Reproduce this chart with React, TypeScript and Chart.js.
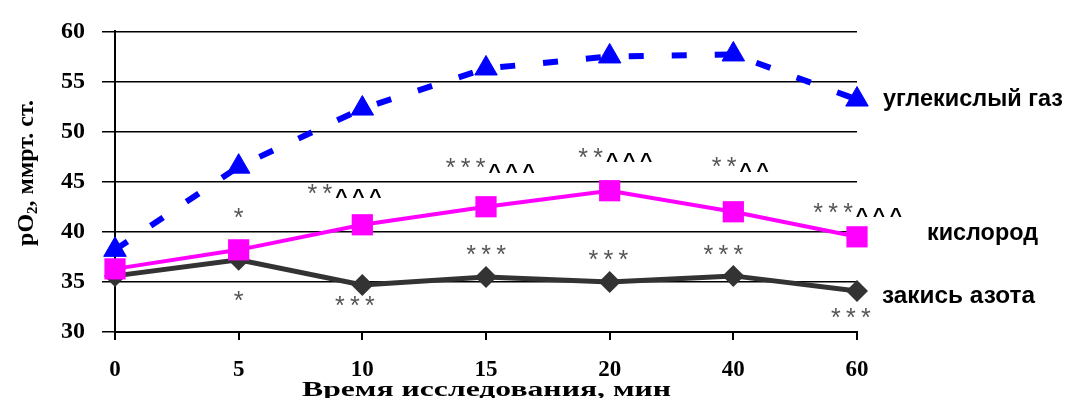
import React, { useEffect, useRef } from 'react';
import { Chart, registerables } from 'chart.js';

Chart.register(...registerables);

// ---- data ----
const categories = ['0', '5', '10', '15', '20', '40', '60'];
const co2Values = [38.2, 46.5, 52.3, 56.3, 57.5, 57.7, 53.2];
const oxygenValues = [36.3, 38.2, 40.7, 42.5, 44.1, 42.0, 39.5];
const nitrousValues = [35.6, 37.2, 34.7, 35.5, 35.0, 35.6, 34.1];
const seriesNames = ['углекислый газ', 'кислород', 'закись азота'];
const yMin = 30;
const yMax = 60;
const yStep = 5;
const yTitle = ['pO', '2', ', ммрт. ст.'];
const xTitle = 'Время исследования, мин';

// significance marks: position along category axis (index), y value, number of * and ^
const markAt = [1.0, 1.0, 1.85, 1.94, 3.03, 3.0, 4.04, 3.99, 5.05, 4.92, 6.0, 5.95];
const markValue = [41.9, 33.6, 44.3, 33.1, 46.85, 38.2, 47.9, 37.7, 46.95, 38.2, 42.4, 31.85];
const markStars = [1, 1, 2, 3, 3, 3, 2, 3, 2, 3, 3, 3];
const markCarets = [0, 0, 3, 0, 3, 0, 3, 0, 2, 0, 3, 0];

// ---- styles ----
const COLORS = ['#0000FF', '#FF00FF', '#333333'];
const LABEL_OFFSETS = [
  [26, 0],
  [70, -3],
  [25, 6],
];
const LABEL_WIDTHS = [180, 111, 153];

function fitText(
  ctx: CanvasRenderingContext2D,
  text: string,
  x: number,
  cy: number,
  font: string,
  width: number,
  refGlyph: string
) {
  ctx.save();
  ctx.font = font;
  ctx.textAlign = 'left';
  ctx.textBaseline = 'alphabetic';
  const m = ctx.measureText(refGlyph);
  const base = cy + (m.actualBoundingBoxAscent - m.actualBoundingBoxDescent) / 2;
  const w = ctx.measureText(text).width;
  const sx = width / w;
  ctx.translate(x, base);
  ctx.scale(sx, 1);
  ctx.fillText(text, 0, 0);
  ctx.restore();
}

const overlayPlugin = {
  id: 'overlayTexts',
  afterDraw(chart: any) {
    const ctx: CanvasRenderingContext2D = chart.ctx;
    const xs = chart.scales.x;
    const ys = chart.scales.y;
    const area = chart.chartArea;

    // significance marks
    const starSp = 15;
    const caretSp = 17;
    const gap = 14;
    for (let i = 0; i < markAt.length; i++) {
      const ns = markStars[i];
      const nc = markCarets[i];
      let width = 0;
      if (ns > 0) width += (ns - 1) * starSp;
      if (ns > 0 && nc > 0) width += gap;
      if (nc > 0) width += (nc - 1) * caretSp;
      const cx = xs.getPixelForValue(markAt[i]);
      const cy = ys.getPixelForValue(markValue[i]);
      let px = cx - width / 2;
      ctx.save();
      ctx.textAlign = 'center';
      ctx.textBaseline = 'alphabetic';
      ctx.font = '25px "Liberation Sans"';
      ctx.fillStyle = '#555555';
      const ms = ctx.measureText('*');
      const sBase = cy + (ms.actualBoundingBoxAscent - ms.actualBoundingBoxDescent) / 2;
      for (let k = 0; k < ns; k++) {
        ctx.fillText('*', px, sBase);
        if (k < ns - 1) px += starSp;
      }
      if (ns > 0 && nc > 0) px += gap;
      ctx.font = 'bold 21px "Liberation Sans"';
      ctx.fillStyle = '#000000';
      const mc = ctx.measureText('^');
      const cBase = cy + 5 + (mc.actualBoundingBoxAscent - mc.actualBoundingBoxDescent) / 2;
      for (let k = 0; k < nc; k++) {
        ctx.fillText('^', px, cBase);
        px += caretSp;
      }
      ctx.restore();
    }

    // series labels at the end of each line
    const lastIdx = categories.length - 1;
    const lastVals = [co2Values[lastIdx], oxygenValues[lastIdx], nitrousValues[lastIdx]];
    for (let i = 0; i < seriesNames.length; i++) {
      const x = xs.getPixelForValue(lastIdx) + LABEL_OFFSETS[i][0];
      const y = ys.getPixelForValue(lastVals[i]) + LABEL_OFFSETS[i][1];
      ctx.fillStyle = '#000000';
      fitText(ctx, seriesNames[i], x, y, 'bold 23px "Liberation Sans"', LABEL_WIDTHS[i], 'о');
    }

    // x axis title
    ctx.fillStyle = '#000000';
    fitText(
      ctx,
      xTitle,
      (area.left + area.right) / 2 - 184,
      389,
      'bold 22px "Liberation Serif"',
      369,
      'В'
    );

    // y axis title (rotated, with subscript)
    ctx.save();
    ctx.translate(26, 173);
    ctx.rotate(-Math.PI / 2);
    const bigFont = 'bold 24px "Liberation Serif"';
    const subFont = 'bold 15px "Liberation Serif"';
    ctx.font = bigFont;
    const w1 = ctx.measureText(yTitle[0]).width;
    const w3 = ctx.measureText(yTitle[2]).width;
    ctx.font = subFont;
    const w2 = ctx.measureText(yTitle[1]).width;
    const total = w1 + w2 + w3;
    const base = 7;
    ctx.textBaseline = 'alphabetic';
    ctx.textAlign = 'left';
    ctx.fillStyle = '#000000';
    let tx = -total / 2;
    ctx.font = bigFont;
    ctx.fillText(yTitle[0], tx, base);
    tx += w1;
    ctx.font = subFont;
    ctx.fillText(yTitle[1], tx, base + 4);
    tx += w2;
    ctx.font = bigFont;
    ctx.fillText(yTitle[2], tx, base);
    ctx.restore();
  },
};

export default function App() {
  const ref = useRef<HTMLCanvasElement | null>(null);

  useEffect(() => {
    if (!ref.current) return;
    const chart = new Chart(ref.current, {
      type: 'line',
      data: {
        labels: categories,
        datasets: [
          {
            label: seriesNames[1],
            data: oxygenValues,
            borderColor: COLORS[1],
            backgroundColor: COLORS[1],
            borderWidth: 4,
            pointStyle: 'rect',
            pointRadius: 15,
            pointBorderWidth: 0,
            pointBackgroundColor: COLORS[1],
            tension: 0,
            clip: false,
            order: 0,
          } as any,
          {
            label: seriesNames[2],
            data: nitrousValues,
            borderColor: COLORS[2],
            backgroundColor: COLORS[2],
            borderWidth: 5,
            pointStyle: 'rectRot',
            pointRadius: 11,
            pointBorderWidth: 0,
            pointBackgroundColor: COLORS[2],
            tension: 0,
            clip: false,
            order: 1,
          } as any,
          {
            label: seriesNames[0],
            data: co2Values,
            borderColor: COLORS[0],
            backgroundColor: COLORS[0],
            borderWidth: 6,
            borderDash: [15, 28],
            borderCapStyle: 'butt',
            pointStyle: 'triangle',
            pointRadius: 13,
            pointBorderWidth: 1,
            pointBorderColor: COLORS[0],
            pointBackgroundColor: COLORS[0],
            tension: 0,
            clip: false,
            order: 2,
          } as any,
        ],
      },
      options: {
        animation: false,
        responsive: true,
        maintainAspectRatio: false,
        layout: { padding: { left: 0, right: 208, top: 24, bottom: 0 } },
        plugins: {
          legend: { display: false },
          tooltip: { enabled: false },
          title: { display: false },
        },
        scales: {
          x: {
            type: 'category',
            offset: false,
            grid: {
              display: true,
              drawOnChartArea: false,
              drawTicks: true,
              tickLength: 8,
              color: '#000000',
              lineWidth: 2,
            },
            border: { display: true, color: '#000000', width: 2 },
            ticks: {
              autoSkip: false,
              maxRotation: 0,
              color: '#000000',
              padding: 16,
              font: { family: '"Liberation Serif"', size: 23, weight: 'bold' },
            },
            afterFit: (s: any) => {
              s.height = 66;
            },
          },
          y: {
            min: yMin,
            max: yMax,
            grid: {
              display: true,
              drawTicks: true,
              tickLength: 13,
              color: '#000000',
              lineWidth: 1.5,
            },
            border: { display: true, color: '#000000', width: 2 },
            ticks: {
              stepSize: yStep,
              color: '#000000',
              padding: 17,
              font: { family: '"Liberation Serif"', size: 24, weight: 'bold' },
            },
            afterFit: (s: any) => {
              s.width = 115;
            },
          },
        },
      },
      plugins: [overlayPlugin],
    });
    return () => chart.destroy();
  }, []);

  return (
    <div
      style={{
        position: 'absolute',
        left: 0,
        top: 0,
        width: 1065,
        height: 398,
        background: '#ffffff',
      }}
    >
      <canvas ref={ref} />
    </div>
  );
}
